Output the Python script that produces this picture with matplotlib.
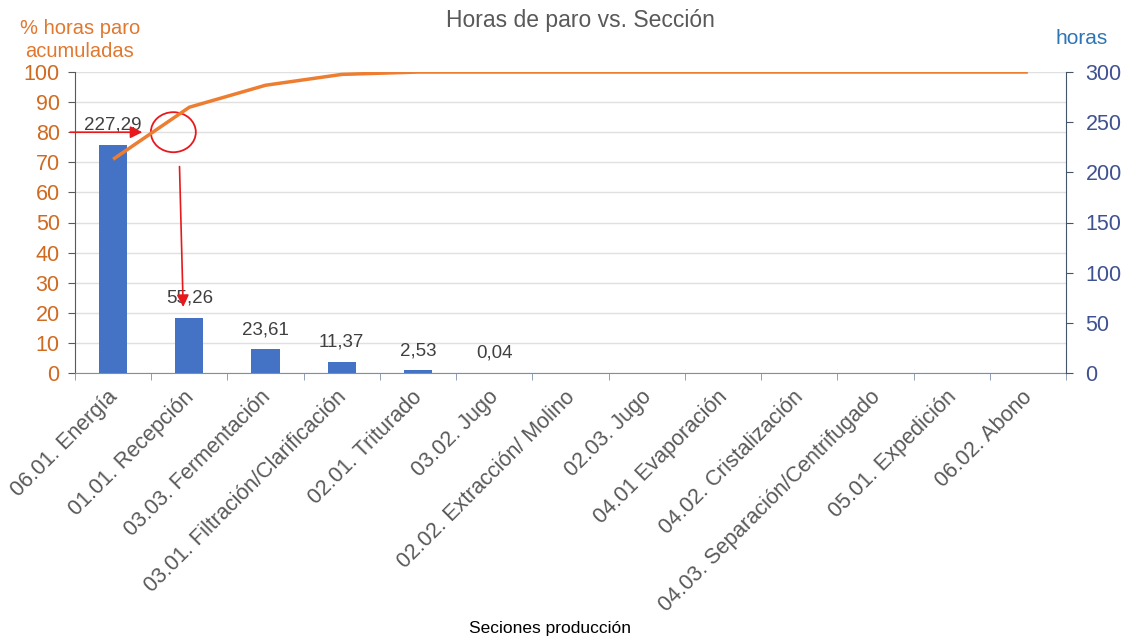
import matplotlib
matplotlib.use("Agg")
import matplotlib.pyplot as plt
import matplotlib.transforms as mtransforms
from matplotlib.patches import Ellipse
import numpy as np

categories = ["06.01. Energía", "01.01. Recepción", "03.03. Fermentación",
              "03.01. Filtración/Clarificación", "02.01. Triturado", "03.02. Jugo",
              "02.02. Extracción/ Molino", "02.03. Jugo", "04.01 Evaporación",
              "04.02. Cristalización", "04.03. Separación/Centrifugado",
              "05.01. Expedición", "06.02. Abono"]
horas = [227.29, 55.26, 23.61, 11.37, 2.53, 0.04, 0, 0, 0, 0, 0, 0, 0]
pct_acum = [71.0, 88.3, 95.6, 99.2, 99.99, 100, 100, 100, 100, 100, 100, 100, 100]
left_ticks = [0, 10, 20, 30, 40, 50, 60, 70, 80, 90, 100]
right_ticks = [0, 50, 100, 150, 200, 250, 300]

plt.rcParams['font.family'] = ['Liberation Sans', 'DejaVu Sans']

fig = plt.figure(figsize=(11.28, 6.39), dpi=100)
ax = fig.add_axes([75/1128, 1-373/639, (1066-75)/1128, (373-72)/639])
ax2 = ax.twinx()
ax3 = ax.twinx()

x = np.arange(len(categories))

# left axis: % and grid
ax.set_ylim(0, 100)
ax.set_yticks(left_ticks)
ax.set_xlim(-0.5, len(categories) - 0.5)
ax.grid(axis='y', color='#E0E0E0', linewidth=1)
ax.set_axisbelow(True)
ax.tick_params(axis='y', colors='#595959', labelcolor='#D06A20', labelsize=15.5,
               length=5, direction='out', pad=6)
for s in ['top', 'right']:
    ax.spines[s].set_visible(False)
ax.spines['left'].set_color('#595959')
ax.spines['bottom'].set_color('#7F8FA9')

ax.set_xticks(x)
ax.set_xticklabels(categories, rotation=45, ha='right', rotation_mode='anchor',
                   fontsize=15.5, color='#595959')
ax.tick_params(axis='x', which='major', length=0, pad=9)
ax.set_xticks(np.arange(-0.5, len(categories), 1), minor=True)
ax.tick_params(axis='x', which='minor', length=5, color='#7F8FA9', direction='out')
offset = mtransforms.ScaledTranslation(-0.06, -0.01, fig.dpi_scale_trans)
for lbl in ax.get_xticklabels():
    lbl.set_transform(lbl.get_transform() + offset)

# right axis: hours bars
ax2.set_ylim(0, 300)
ax2.set_yticks(right_ticks)
bars = ax2.bar(x, horas, width=0.37, color='#4472C4')
labels = [f"{v:.2f}".replace('.', ',') if v > 0 else "" for v in horas]
ax2.bar_label(bars, labels=labels, padding=8, fontsize=13.5, color='#404040')
ax2.tick_params(axis='y', colors='#44546A', labelcolor='#3F5190', labelsize=15.5,
                length=5, direction='out', pad=9)
for s in ['top', 'left', 'bottom']:
    ax2.spines[s].set_visible(False)
ax2.spines['right'].set_color('#44546A')

# top axis: cumulative line
ax3.set_ylim(0, 100)
ax3.plot(x, pct_acum, color='#ED7D31', linewidth=2.5, solid_capstyle='butt')
ax3.axis('off')

# red annotations
ax3.annotate("", xy=(0.42, 80), xytext=(-0.6, 80),
             arrowprops=dict(arrowstyle='-|>', color='#E8191C', lw=1.2, mutation_scale=18),
             annotation_clip=False)
ax3.add_patch(Ellipse((0.79, 80), 0.59, 13.3, fill=False, edgecolor='#E8191C', lw=1.3))
ax3.annotate("", xy=(0.92, 21), xytext=(0.87, 69.5),
             arrowprops=dict(arrowstyle='-|>', color='#E8191C', lw=1.2, mutation_scale=18))

fig.text(580/1128, 1-20/639, "Horas de paro vs. Sección", ha='center', va='center',
         fontsize=16.5, color='#595959')
fig.text(80/1128, 1-40/639, "% horas paro\nacumuladas", ha='center', va='center',
         fontsize=14.5, color='#E0782F', linespacing=1.3)
fig.text(1082/1128, 1-38/639, "horas", ha='center', va='center',
         fontsize=15, color='#2E75B6')
fig.text(550/1128, 1-628/639, "Seciones producción", ha='center', va='center',
         fontsize=12.5, color='#000000')

fig.savefig("out.png", dpi=100)
